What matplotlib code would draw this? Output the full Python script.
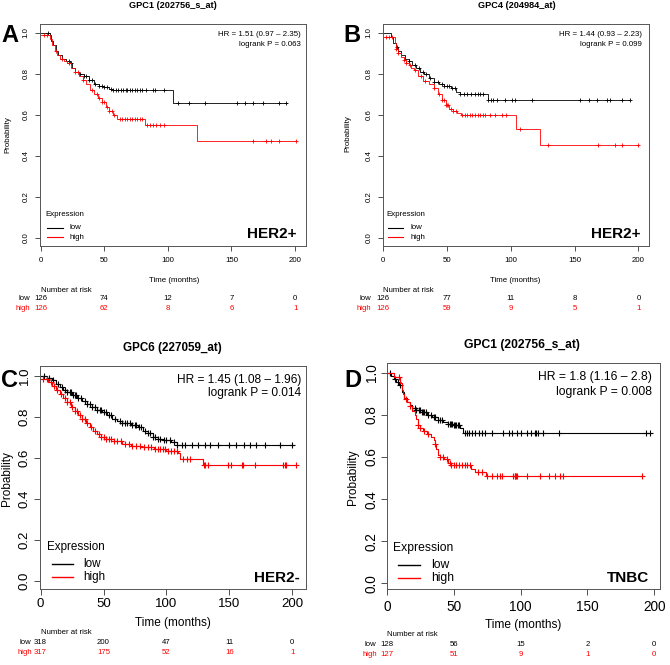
import numpy as np
import matplotlib
matplotlib.use("Agg")
import matplotlib.pyplot as plt
from matplotlib.lines import Line2D

plt.rcParams['font.family'] = ['Liberation Sans', 'DejaVu Sans']

W, H = 670, 665
RED = "#ff0000"

# ---------------- data ----------------
risk_times = [0, 50, 100, 150, 200]

# A: GPC1, HER2+
a_low_t = [0, 7, 8.5, 10, 12, 14, 17, 20, 23, 25, 27, 30, 34, 38, 42, 46, 50, 54, 57, 104]
a_low_s = [1.0, 0.99, 0.96, 0.94, 0.91, 0.89, 0.87, 0.86, 0.85, 0.83, 0.81, 0.80, 0.79, 0.77, 0.75, 0.74, 0.735, 0.725, 0.72, 0.655]
a_low_end = 194
a_low_cens = [6, 22, 24, 31, 34, 36, 38, 40, 43, 46, 48, 50, 52, 55, 57, 59, 61, 63, 65, 67, 68, 70,
              72, 74, 76, 78, 80, 83, 88, 90, 97, 108, 117, 129, 154, 161, 167, 175, 187, 193]
a_high_t = [0, 7, 9, 11, 13, 15, 18, 21, 24, 27, 30, 33, 36, 39, 42, 45, 48, 51, 54, 57, 60, 82, 123]
a_high_s = [0.99, 0.97, 0.94, 0.91, 0.89, 0.87, 0.86, 0.85, 0.83, 0.81, 0.79, 0.77, 0.75, 0.72, 0.70,
            0.68, 0.66, 0.64, 0.62, 0.60, 0.58, 0.55, 0.47]
a_high_end = 201
a_high_cens = [3, 5, 12, 17, 22, 27, 29, 33, 40, 44, 46, 48, 50, 52, 54, 56, 58, 62, 64, 66, 68, 70,
               72, 74, 76, 78, 80, 84, 86, 88, 91, 94, 97, 167, 177, 181, 187, 201]
a_risk_low = [126, 74, 12, 7, 0]
a_risk_high = [126, 62, 8, 6, 1]

# B: GPC4, HER2+
b_low_t = [0, 6, 8, 10, 12, 14, 17, 20, 23, 26, 29, 32, 36, 40, 44, 48, 53, 57, 60, 82]
b_low_s = [1.0, 0.98, 0.95, 0.93, 0.91, 0.89, 0.87, 0.86, 0.84, 0.83, 0.81, 0.80, 0.78, 0.76, 0.75,
           0.74, 0.73, 0.71, 0.70, 0.67]
b_low_end = 193.5
b_low_cens = [11, 20, 25, 28, 31, 34, 37, 40, 43, 46, 48, 50, 52, 54, 56, 60, 63, 66, 69, 72, 74, 76,
              78, 82.5, 84.5, 86, 89, 95.5, 101, 103.5, 117, 154.5, 161, 167.5, 175.5, 178, 187, 193.5]
b_high_t = [0, 9, 10, 12, 14, 16, 18, 20, 22, 24, 27, 31, 36, 40, 43, 46, 49, 52, 55, 58, 61, 104, 123]
b_high_s = [0.98, 0.95, 0.92, 0.90, 0.88, 0.865, 0.85, 0.84, 0.83, 0.82, 0.79, 0.765, 0.75, 0.73,
            0.70, 0.67, 0.65, 0.63, 0.62, 0.61, 0.60, 0.53, 0.455]
b_high_end = 200
b_high_cens = [2, 5, 7, 10, 12, 16, 18, 21, 25, 30, 33, 40, 44, 46, 48, 49, 50, 51, 53, 55, 57, 62,
               64, 66, 68, 70, 72, 74, 76, 78, 80, 84, 88, 93, 96, 107.5, 129, 168, 182, 187.5, 200]
b_risk_low = [126, 77, 11, 8, 0]
b_risk_high = [126, 59, 9, 5, 1]

# C: GPC6, HER2-
c_low_t = [0, 5, 9, 12, 15, 18, 21, 25, 29, 33, 37, 41, 45, 49, 53, 57, 61, 65, 72, 77, 81, 85,
           89, 93, 97, 104, 108]
c_low_s = [1.0, 0.99, 0.98, 0.96, 0.945, 0.93, 0.92, 0.905, 0.89, 0.875, 0.86, 0.85, 0.835, 0.825,
           0.81, 0.79, 0.78, 0.77, 0.76, 0.75, 0.73, 0.72, 0.70, 0.69, 0.685, 0.675, 0.665]
c_low_end = 200.8
c_low_cens = [3, 7, 10, 14, 17, 19, 21, 23, 24, 26, 27, 28, 30, 32, 35, 37, 39, 41, 43, 45, 47, 48,
              50, 52, 54, 56, 59, 63, 65, 67, 69, 71, 73, 75, 76, 78, 80, 83, 85, 87, 89, 91, 93,
              95, 98, 100, 103, 106, 108, 112, 115, 120, 125, 130.5, 134.5, 141, 150, 155.5, 162,
              166, 171.5, 178, 190, 200]
c_high_t = [0, 6, 9, 12, 15, 18, 21, 24, 27, 30, 33, 36, 39, 42, 45, 48, 52, 58, 65, 72, 80, 90,
            100, 109, 111, 129]
c_high_s = [0.985, 0.97, 0.95, 0.93, 0.91, 0.89, 0.87, 0.85, 0.83, 0.81, 0.79, 0.77, 0.75, 0.73,
            0.715, 0.70, 0.69, 0.68, 0.67, 0.66, 0.655, 0.645, 0.635, 0.625, 0.593, 0.565]
c_high_end = 203
c_high_cens = [2, 5, 8, 11, 13, 16, 19, 21, 23, 25, 27, 29, 31, 33, 35, 37, 40, 43, 46, 48, 50, 52,
               54, 56, 58, 61, 64, 67, 70, 73, 76, 79, 82, 85, 88, 91, 93, 95, 97, 99, 101, 104,
               106, 108, 113, 116, 119, 130, 131, 133, 149, 151, 160, 161, 170, 193, 194, 195, 203]
c_risk_low = [318, 200, 47, 11, 0]
c_risk_high = [317, 175, 52, 16, 1]

# D: GPC1, TNBC
d_low_t = [0, 3, 5, 7, 9, 11, 13, 15, 17, 19, 22, 26, 30, 34, 38, 42, 46, 50, 55, 57]
d_low_s = [1.0, 0.985, 0.97, 0.955, 0.94, 0.91, 0.88, 0.86, 0.845, 0.835, 0.825, 0.815, 0.80, 0.79,
           0.775, 0.765, 0.755, 0.75, 0.74, 0.715]
d_low_end = 197
d_low_cens = [2, 6, 8, 10, 21, 22, 24, 25, 26, 27, 28, 29, 31, 33, 35, 36, 38, 40, 41, 46, 47, 48,
              49, 50, 51, 52, 53, 54, 58, 59.5, 61, 63.5, 66, 68.5, 71, 73.5, 78.5, 87, 91, 93.5,
              97, 100.5, 105, 108, 110.5, 111.5, 113, 116.5, 128.5, 194, 197]
d_high_t = [0, 5, 10, 11, 12, 13, 15, 17, 19, 21, 22, 23, 25, 27, 30, 33, 35, 36, 37, 38, 40, 43,
            46, 48, 63, 66, 74]
d_high_s = [1.0, 0.98, 0.95, 0.92, 0.90, 0.875, 0.86, 0.84, 0.82, 0.80, 0.78, 0.75, 0.74, 0.725,
            0.71, 0.695, 0.68, 0.66, 0.64, 0.61, 0.60, 0.59, 0.57, 0.56, 0.545, 0.53, 0.51]
d_high_end = 190.5
d_high_cens = [9, 14, 17, 23, 25, 28, 31, 36, 40, 42, 45, 47, 48, 50, 52, 54, 56, 58, 60, 62, 68,
               71, 75, 78.5, 82, 84.5, 86, 94.5, 95.5, 96, 96.5, 97, 104.5, 114.5, 121, 125.5,
               129.5, 132, 190.5]
d_risk_low = [128, 56, 15, 2, 0]
d_risk_high = [127, 51, 9, 1, 0]

titles = ["GPC1 (202756_s_at)", "GPC4 (204984_at)", "GPC6 (227059_at)", "GPC1 (202756_s_at)"]
hr_labels = ["HR = 1.51 (0.97 \u2013 2.35)", "HR = 1.44 (0.93 \u2013 2.23)",
             "HR = 1.45 (1.08 \u2013 1.96)", "HR = 1.8 (1.16 \u2013 2.8)"]
p_labels = ["logrank P = 0.063", "logrank P = 0.099", "logrank P = 0.014", "logrank P = 0.008"]
subtypes = ["HER2+", "HER2+", "HER2-", "TNBC"]
letters = ["A", "B", "C", "D"]

curves = [
    (a_low_t, a_low_s, a_low_end, a_low_cens, a_high_t, a_high_s, a_high_end, a_high_cens, a_risk_low, a_risk_high),
    (b_low_t, b_low_s, b_low_end, b_low_cens, b_high_t, b_high_s, b_high_end, b_high_cens, b_risk_low, b_risk_high),
    (c_low_t, c_low_s, c_low_end, c_low_cens, c_high_t, c_high_s, c_high_end, c_high_cens, c_risk_low, c_risk_high),
    (d_low_t, d_low_s, d_low_end, d_low_cens, d_high_t, d_high_s, d_high_end, d_high_cens, d_risk_low, d_risk_high),
]

# ---------------- layout (pixels) ----------------
layout = [
    dict(box=(40, 24, 306, 246), xlim=(-0.5, 208.6), ylim=(-0.039, 1.042), tick=5.7, lab=5.7, hr=5.7,
         leg=5.7, tit=6.6, lw=0.6, ms=3.2, tl=3.5, xpad=4.5, ypad=4.0,
         title=(173, 6), letter=(10, 35), ylab=(8, 135), xlab=(174, 280),
         hr_x=301, hr_y=(34.3, 44.3), sub=(296.7, 238),
         leg_title=(45, 215), leg_line=(46.7, 62.7), leg_y=(227.7, 237.3), leg_tx=69.3,
         risk_y=(290, 299, 309), risk_lx=30),
    dict(box=(382.7, 24, 649, 246), xlim=(-0.3, 208.3), ylim=(-0.039, 1.042), tick=5.7, lab=5.7, hr=5.7,
         leg=5.7, tit=6.6, lw=0.6, ms=3.2, tl=3.5, xpad=4.5, ypad=4.0,
         title=(516.7, 6), letter=(352, 35), ylab=(348.3, 134), xlab=(515.3, 280),
         hr_x=641.7, hr_y=(34.3, 44.3), sub=(640, 238),
         leg_title=(386.7, 215), leg_line=(388.3, 403.3), leg_y=(227.7, 237.3), leg_tx=411,
         risk_y=(290, 299, 309), risk_lx=371),
    dict(box=(40, 366, 306, 589.3), xlim=(-0.5, 210.9), ylim=(-0.039, 1.047), tick=9.5, lab=8.5, hr=8.6,
         leg=8.4, tit=8.4, lw=0.8, ms=4.0, tl=4.0, xpad=2.5, ypad=2.5,
         title=(172.7, 348.3), letter=(9, 381), ylab=(6.7, 478.3), xlab=(173.3, 622.7),
         hr_x=301, hr_y=(380, 393.3), sub=(300, 581.7),
         leg_title=(47.3, 547.3), leg_line=(51.7, 72.7), leg_y=(564, 576.7), leg_tx=83.3,
         risk_y=(632.7, 642.7, 652.3), risk_lx=31.7),
    dict(box=(387, 363.3, 660, 589.3), xlim=(0, 204.3), ylim=(-0.028, 1.045), tick=9.8, lab=8.6, hr=8.7,
         leg=8.7, tit=8.7, lw=0.8, ms=4.0, tl=4.0, xpad=4.0, ypad=1.8,
         title=(521.7, 345), letter=(352.5, 381), ylab=(352.5, 477.5), xlab=(523, 625),
         hr_x=652.3, hr_y=(376.7, 391.7), sub=(649, 581.7),
         leg_title=(393.3, 548.3), leg_line=(397.7, 420), leg_y=(565, 578.3), leg_tx=431,
         risk_y=(635, 645, 654.3), risk_lx=376.7),
]


def fx(x):
    return x / W


def fy(y):
    return 1 - y / H


def surv_at(t, times, surv):
    idx = np.searchsorted(times, t, side="right") - 1
    return np.asarray(surv)[idx]


def km(ax, times, surv, end, cens, color, lw, ms):
    xs = np.r_[times, end]
    ys = np.r_[surv, surv[-1]]
    ax.step(xs, ys, where="post", color=color, lw=lw)
    ax.plot(cens, surv_at(np.asarray(cens), times, surv), ls="none", marker="+",
            color=color, ms=ms, mew=lw)


fig = plt.figure(figsize=(W / 100, H / 100), dpi=100)

for i, L in enumerate(layout):
    l, t, r, b = L["box"]
    ax = fig.add_axes([fx(l), fy(b), (r - l) / W, (b - t) / H])
    (lt, ls_, le, lc, ht, hs, he, hc, rl, rh) = curves[i]
    km(ax, lt, ls_, le, lc, "black", L["lw"], L["ms"])
    km(ax, ht, hs, he, hc, RED, L["lw"], L["ms"])

    ax.set_xlim(*L["xlim"])
    ax.set_ylim(*L["ylim"])
    ax.set_xticks([0, 50, 100, 150, 200])
    ax.set_yticks([0, 0.2, 0.4, 0.6, 0.8, 1.0])
    ax.set_yticklabels(["0.0", "0.2", "0.4", "0.6", "0.8", "1.0"], rotation=90, va="center")
    ax.tick_params(axis="both", labelsize=L["tick"], length=L["tl"], width=0.6, colors="#333333",
                   labelcolor="black")
    ax.tick_params(axis="x", pad=L["xpad"])
    ax.tick_params(axis="y", pad=L["ypad"])
    for sp in ax.spines.values():
        sp.set_linewidth(0.7)
        sp.set_color("#555555")

    # texts inside the plot
    ax.text(fx(L["hr_x"]), fy(L["hr_y"][0]), hr_labels[i], transform=fig.transFigure,
            ha="right", va="center", fontsize=L["hr"])
    ax.text(fx(L["hr_x"]), fy(L["hr_y"][1]), p_labels[i], transform=fig.transFigure,
            ha="right", va="center", fontsize=L["hr"])
    ax.text(fx(L["sub"][0]), fy(L["sub"][1]), subtypes[i], transform=fig.transFigure,
            ha="right", va="baseline", fontsize=11, fontweight="bold")

    # legend drawn R-style
    fig.text(fx(L["leg_title"][0]), fy(L["leg_title"][1]), "Expression", ha="left", va="center",
             fontsize=L["leg"])
    for yy, col, name in zip(L["leg_y"], ["black", RED], ["low", "high"]):
        fig.add_artist(Line2D([fx(L["leg_line"][0]), fx(L["leg_line"][1])], [fy(yy), fy(yy)],
                              color=col, lw=L["lw"] + 0.2, transform=fig.transFigure))
        fig.text(fx(L["leg_tx"]), fy(yy), name, ha="left", va="center", fontsize=L["leg"])

    # titles, labels
    fig.text(fx(L["title"][0]), fy(L["title"][1]), titles[i], ha="center", va="center",
             fontsize=L["tit"], fontweight="bold")
    fig.text(fx(L["letter"][0]), fy(L["letter"][1]), letters[i], ha="center", va="center",
             fontsize=17, fontweight="bold")
    fig.text(fx(L["ylab"][0]), fy(L["ylab"][1]), "Probability", ha="center", va="center",
             rotation=90, fontsize=L["lab"])
    fig.text(fx(L["xlab"][0]), fy(L["xlab"][1]), "Time (months)", ha="center", va="center",
             fontsize=L["lab"])

    # number at risk table
    x0 = l + (0 - L["xlim"][0]) / (L["xlim"][1] - L["xlim"][0]) * (r - l)
    fig.text(fx(x0), fy(L["risk_y"][0]), "Number at risk", ha="left", va="center", fontsize=5.6)
    fig.text(fx(L["risk_lx"]), fy(L["risk_y"][1]), "low", ha="right", va="center", fontsize=5.6)
    fig.text(fx(L["risk_lx"]), fy(L["risk_y"][2]), "high", ha="right", va="center", fontsize=5.6,
             color=RED)
    for tt, nl, nh in zip(risk_times, rl, rh):
        xp = l + (tt - L["xlim"][0]) / (L["xlim"][1] - L["xlim"][0]) * (r - l)
        fig.text(fx(xp), fy(L["risk_y"][1]), str(nl), ha="center", va="center", fontsize=5.6)
        fig.text(fx(xp), fy(L["risk_y"][2]), str(nh), ha="center", va="center", fontsize=5.6,
                 color=RED)

fig.savefig("out.png", dpi=100)
